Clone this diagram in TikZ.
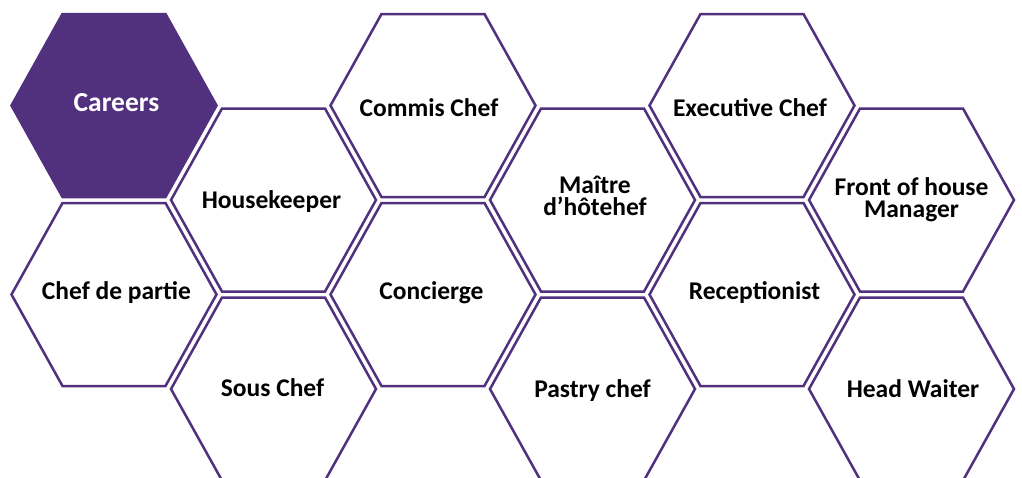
\documentclass[tikz,border=0pt]{standalone}
\usepackage{fontspec}
\setmainfont{Carlito}
\definecolor{hexpurple}{RGB}{81,48,126}
\tikzset{
  hexline/.style={draw=hexpurple, line width=2.5pt, line join=miter},
  hexfill/.style={hexline, fill=hexpurple},
  lbl/.style={font=\bfseries\fontsize{25.5}{21.5}\selectfont, align=center, anchor=base, inner sep=0pt, text=black},
  lblw/.style={lbl, font=\bfseries\fontsize{27.5}{22}\selectfont, text=white}
}
\newcommand\hexat[3][hexline]{%
  \draw[#1] (#2-102.5,#3) -- (#2-51.5,#3-91.5) -- (#2+51.5,#3-91.5) -- (#2+102.5,#3) -- (#2+51.5,#3+91.5) -- (#2-51.5,#3+91.5) -- cycle;}
\begin{document}
\begin{tikzpicture}[x=1pt,y=-1pt]
\useasboundingbox (0,0) rectangle (1022,477);
\clip (0,0) rectangle (1022,477);
% hexagons
\hexat[hexfill]{114}{105.5}
\hexat{114}{294.5}
\hexat{273.5}{200}
\hexat{273.5}{389}
\hexat{433}{105.5}
\hexat{433}{294.5}
\hexat{592.5}{200}
\hexat{592.5}{389}
\hexat{752}{105.5}
\hexat{752}{294.5}
\hexat{911.5}{200}
\hexat{911.5}{389}
% labels (base = cap centre + half cap height; two-line labels: last baseline)
\node[lblw] (careers) at (116.5,111) {Careers};
\node[lbl] (chefpartie) at (116.5,299.5) {Chef de partie};
\node[lbl] (housekeeper) at (271.5,208) {Housekeeper};
\node[lbl] (souschef) at (272.5,396) {Sous Chef};
\node[lbl] (commis) at (429,116) {Commis Chef};
\node[lbl] (concierge) at (431.5,299) {Concierge};
\node[lbl] (maitre) at (595,215) {Maître\\d’hôtehef};
\node[lbl] (pastry) at (592.5,397) {Pastry chef};
\node[lbl] (executive) at (750,116) {Executive Chef};
\node[lbl] (reception) at (754.5,299) {Receptionist};
\node[lbl] (fronthouse) at (911.5,217) {Front of house\\Manager};
\node[lbl] (headwaiter) at (913,397) {Head Waiter};
\end{tikzpicture}
\end{document}
